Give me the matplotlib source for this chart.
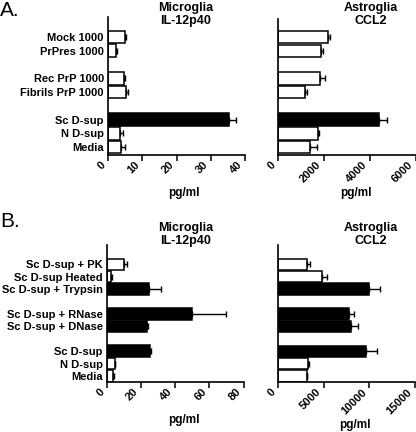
import matplotlib
matplotlib.use("Agg")
import matplotlib.pyplot as plt
import numpy as np

plt.rcParams['font.family'] = ['Liberation Sans', 'DejaVu Sans']

# ---------------- data ----------------
a_groups = [["Mock 1000", "PrPres 1000"],
            ["Rec PrP 1000", "Fibrils PrP 1000"],
            ["Sc D-sup", "N D-sup", "Media"]]
a_micro = [5.0, 2.3, 4.7, 5.2, 35.3, 3.6, 3.8]
a_micro_err = [0.3, 0.3, 0.4, 0.6, 2.2, 0.9, 1.2]
a_astro = [2150, 1850, 1830, 1180, 4400, 1750, 1400]
a_astro_err = [110, 110, 190, 90, 330, 30, 300]
a_filled = [False, False, False, False, True, False, False]

b_groups = [["Sc D-sup + PK", "Sc D-sup Heated", "Sc D-sup + Trypsin"],
            ["Sc D-sup + RNase", "Sc D-sup + DNase"],
            ["Sc D-sup", "N D-sup", "Media"]]
b_micro = [10.0, 2.2, 24.7, 49.9, 23.6, 25.0, 4.5, 3.7]
b_micro_err = [1.8, 0.6, 6.7, 20.1, 0.4, 0.5, 0.2, 0.6]
b_astro = [3110, 4770, 10000, 7770, 7950, 9630, 3290, 3110]
b_astro_err = [370, 610, 1170, 580, 800, 1170, 110, 70]
b_filled = [False, False, True, True, True, True, False, False]

a_micro_ticks = [0, 10, 20, 30, 40]
a_astro_ticks = [0, 2000, 4000, 6000]
b_micro_ticks = [0, 20, 40, 60, 80]
b_astro_ticks = [0, 5000, 10000, 15000]

# ---------------- layout ----------------
W, H = 416, 432
fig = plt.figure(figsize=(W / 100, H / 100), dpi=100)


def rect(x0, x1, ytop, ybot):
    return [x0 / W, 1 - ybot / H, (x1 - x0) / W, (ybot - ytop) / H]


def positions(groups):
    pos, labels, p = [], [], 0
    for g in groups:
        for lab in g:
            pos.append(p)
            labels.append(lab)
            p += 1
        p += 1
    return pos, labels


def panel(r, groups, vals, errs, filled, ticks, show_labels, ylim):
    ax = fig.add_axes(r)
    pos, labels = positions(groups)
    colors = ['black' if f else 'white' for f in filled]
    ax.barh(pos, vals, height=0.92, color=colors, edgecolor='black',
            linewidth=1.1, zorder=2)
    ax.errorbar(vals, pos, xerr=[np.zeros(len(vals)), errs], fmt='none',
                ecolor='black', elinewidth=1.0, capsize=2.5, capthick=1.0,
                zorder=3)
    ax.set_ylim(*ylim)
    ax.set_xlim(ticks[0], ticks[-1])
    ax.set_xticks(ticks)
    ax.set_xticklabels([])
    for t in ticks:
        ax.annotate(str(t), xy=(t, 0), xycoords=ax.get_xaxis_transform(),
                    xytext=(-8, -5), textcoords='offset pixels',
                    rotation=45, ha='right', va='top',
                    rotation_mode='anchor', fontsize=8, fontweight='bold',
                    annotation_clip=False)
    ax.set_yticks(pos)
    if show_labels:
        ax.set_yticklabels(labels, fontsize=8, fontweight='bold')
    else:
        ax.set_yticklabels([])
    ax.tick_params(axis='y', length=0, pad=3)
    ax.tick_params(axis='x', length=4, width=1.1, pad=2)
    for s in ['top', 'right']:
        ax.spines[s].set_visible(False)
    for s in ['left', 'bottom']:
        ax.spines[s].set_linewidth(1.2)
    return ax


axA1 = panel(rect(108, 245, 17, 155), a_groups, a_micro, a_micro_err, a_filled,
             a_micro_ticks, True, (8.58, -1.46))
axA2 = panel(rect(278.3, 415.7, 18.7, 155), a_groups, a_astro, a_astro_err,
             a_filled, a_astro_ticks, False, (8.58, -1.34))
axB1 = panel(rect(107, 243.5, 245, 381.7), b_groups, b_micro, b_micro_err,
             b_filled, b_micro_ticks, True, (9.46, -1.56))
axB2 = panel(rect(278.3, 415, 245, 382), b_groups, b_astro, b_astro_err,
             b_filled, b_astro_ticks, False, (9.48, -1.56))


def ftext(x, y, s, **kw):
    fig.text(x / W, 1 - y / H, s, **kw)


title_kw = dict(ha='center', va='center', fontsize=9, fontweight='bold',
                linespacing=1.15)
ftext(185.5, 14.5, "Microglia\nIL-12p40", **title_kw)
ftext(371, 14.5, "Astroglia\nCCL2", **title_kw)
ftext(185.5, 234.5, "Microglia\nIL-12p40", **title_kw)
ftext(371, 234.5, "Astroglia\nCCL2", **title_kw)

lab_kw = dict(ha='center', va='center', fontsize=8.5, fontweight='bold')
ftext(183.5, 193, "pg/ml", **lab_kw)
ftext(355.5, 193, "pg/ml", **lab_kw)
ftext(184, 420, "pg/ml", **lab_kw)
ftext(355, 425, "pg/ml", **lab_kw)

ftext(0, 10, "A.", ha='left', va='center', fontsize=15)
ftext(0, 222, "B.", ha='left', va='center', fontsize=15)

fig.savefig("out.png", dpi=100)
